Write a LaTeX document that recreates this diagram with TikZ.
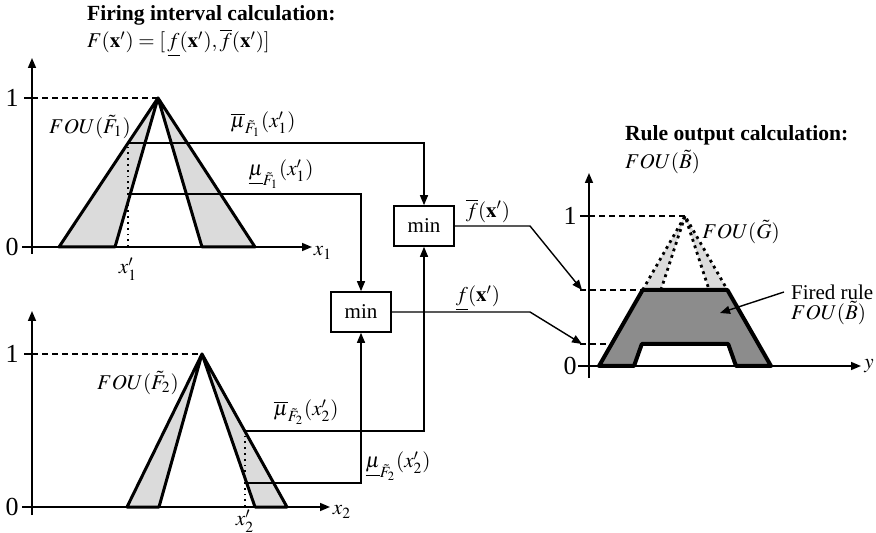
\documentclass[tikz,border=0pt]{standalone}
\usepackage{amsmath}
\usepackage{amssymb}
\usepackage{mathptmx}
\usepackage{fontspec}
\setmainfont{Liberation Serif}
\usetikzlibrary{arrows, arrows.meta}

\begin{document}
\begin{tikzpicture}[x=0.5pt, y=-0.5pt,
    font=\fontsize{10.5}{12.6}\selectfont,
    >={Triangle[length=5pt,width=4pt]},
    conn/.style={line width=0.7pt},
    axis/.style={line width=0.8pt, ->},
    level/.style={line width=0.6pt, dash pattern=on 3pt off 2pt},
    fou/.style={fill=black!14, draw, line width=1.5pt, line join=round},
    fired/.style={fill=black!45, draw, line width=2pt, line join=round},
    minbox/.style={draw, line width=0.8pt, minimum width=30pt, minimum height=20pt, inner sep=0pt},
    tick/.style={font=\fontsize{13}{14}\selectfont}]
  \useasboundingbox (0,0) rectangle (876,533);

  % Coordinates
  \coordinate (P1) at (158,98);
  \coordinate (L1o) at (59,247);
  \coordinate (L1i) at (115,247);
  \coordinate (R1i) at (202,247);
  \coordinate (R1o) at (255,247);
  \coordinate (X1) at (128,247);
  \coordinate (U1) at (128,143);
  \coordinate (D1) at (130.3,194);

  \coordinate (P2) at (202,354);
  \coordinate (L2o) at (127,507);
  \coordinate (L2i) at (159,507);
  \coordinate (R2i) at (255,507);
  \coordinate (R2o) at (287,507);
  \coordinate (X2) at (245,507);
  \coordinate (U2) at (245,431);
  \coordinate (D2) at (246.7,483);

  \coordinate (PG) at (685,216);
  \coordinate (KA) at (530,226);
  \coordinate (KB) at (530,312);
  \coordinate (TA) at (582,290);
  \coordinate (TB) at (582,344);
  \coordinate (FB) at (720,313);

  % Titles
  \node[anchor=west, font=\fontsize{10.8}{13}\selectfont\bfseries] (titleF) at (80,15) {Firing interval calculation:};
  \node[anchor=west] (formF) at (80,43) {$F(\mathbf{x}')=[\,\underline{f}(\mathbf{x}'),\overline{f}(\mathbf{x}')]$};
  \node[anchor=west, font=\fontsize{10.8}{13}\selectfont\bfseries] (titleR) at (618,135) {Rule output calculation:};
  \node[anchor=west] (formR) at (618,162) {$FOU(\tilde{B})$};

  % Antecedent 1
  \filldraw[fou] (L1o) -- (P1) -- (L1i) -- cycle;
  \filldraw[fou] (R1i) -- (P1) -- (R1o) -- cycle;
  \draw[axis] (32,254) -- (32,58);
  \draw[axis] (22,247) -- (312,247);
  \draw[conn] (24,98) -- (32,98);
  \draw[level] (32,98) -- (P1);
  \draw[line width=0.9pt, dotted] (X1) -- (U1);
  \node[tick] (zero1) at (12,247) {0};
  \node[tick] (one1) at (12,98) {1};
  \node (lx1) at (323,253) {$x_1$};
  \node (lx1p) at (128,269) {$x_1'$};
  \node (fou1) at (90,127) {$FOU(\tilde{F}_1)$};
  \node (mu1u) at (263,124) {$\overline{\mu}_{\tilde{F}_1}(x_1')$};
  \node (mu1l) at (281,174) {$\underline{\mu}_{\tilde{F}_1}(x_1')$};

  % Antecedent 2
  \filldraw[fou] (L2o) -- (P2) -- (L2i) -- cycle;
  \filldraw[fou] (R2i) -- (P2) -- (R2o) -- cycle;
  \draw[axis] (32,515) -- (32,311);
  \draw[axis] (22,507) -- (330,507);
  \draw[conn] (24,354) -- (32,354);
  \draw[level] (32,354) -- (P2);
  \draw[line width=0.9pt, dotted] (X2) -- (U2);
  \node[tick] (zero2) at (12,507) {0};
  \node[tick] (one2) at (12,354) {1};
  \node (lx2) at (342,512) {$x_2$};
  \node (lx2p) at (245,521) {$x_2'$};
  \node (fou2) at (138,383) {$FOU(\tilde{F}_2)$};
  \node (mu2u) at (306,412) {$\overline{\mu}_{\tilde{F}_2}(x_2')$};
  \node (mu2l) at (398,466) {$\underline{\mu}_{\tilde{F}_2}(x_2')$};

  % Min operators
  \node[minbox] (minA) at (424,226) {min};
  \node[minbox] (minB) at (361,312) {min};
  \draw[conn, ->] (U1) -| (minA.north);
  \draw[conn, ->] (D1) -| (minB.north);
  \draw[conn, ->] (U2) -| (minA.south);
  \draw[conn, ->] (D2) -| (minB.south);
  \draw[conn, ->] (minA.east) -- (KA) -- (TA);
  \draw[conn, ->] (minB.east) -- (KB) -- (TB);
  \node (fup) at (488,211) {$\overline{f}(\mathbf{x}')$};
  \node (flo) at (478,298) {$\underline{f}(\mathbf{x}')$};

  % Consequent
  \filldraw[fill=black!14, draw=none] (642.6,290) -- (PG) -- (660.9,290) -- cycle;
  \filldraw[fill=black!14, draw=none] (709.1,290) -- (PG) -- (727.4,290) -- cycle;
  \draw[line width=1.4pt, dotted] (642.6,290) -- (PG) -- (727.4,290);
  \draw[line width=1.4pt, dotted] (660.9,290) -- (PG) -- (709.1,290);
  \filldraw[fired] (599,366) -- (642.6,290) -- (727.4,290) -- (771,366) -- (736,366)
    -- (728.2,344) -- (641.8,344) -- (634,366) -- cycle;
  \draw[axis] (589,378) -- (589,173);
  \draw[axis] (578,366) -- (861,366);
  \draw[conn] (580,216) -- (589,216);
  \draw[level] (589,216) -- (PG);
  \draw[level] (580,290) -- (642.6,290);
  \draw[level] (580,344) -- (611.6,344);
  \node[tick] (zero3) at (570,366) {0};
  \node[tick] (one3) at (570,216) {1};
  \node (ly) at (869,366) {$y$};
  \node (fouG) at (741,232) {$FOU(\tilde{G})$};
  \node[anchor=west] (firedA) at (784,292) {Fired rule};
  \node[anchor=west] (firedB) at (784,313) {$FOU(\tilde{B})$};
  \draw[conn, ->] (firedA.west) -- (FB);
\end{tikzpicture}
\end{document}
